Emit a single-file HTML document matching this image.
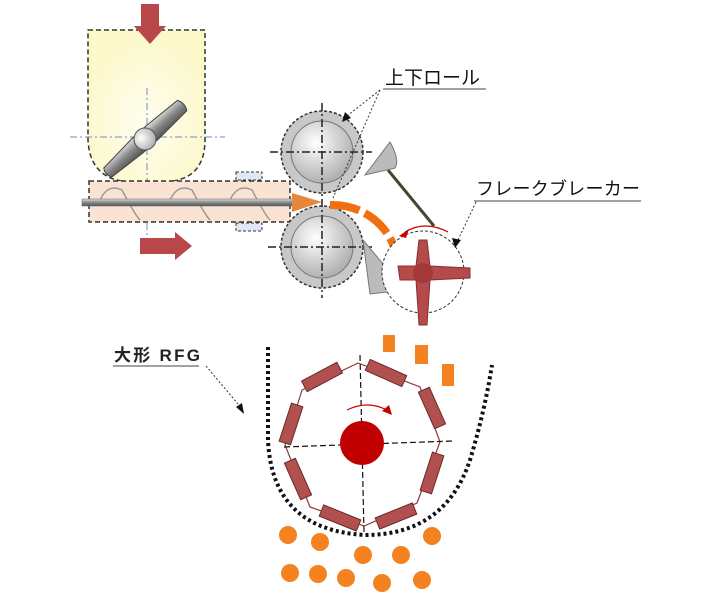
<!DOCTYPE html>
<html><head><meta charset="utf-8"><style>
html,body{margin:0;padding:0;background:#fff;}
svg{display:block;}
text{font-family:"Liberation Sans","Noto Sans CJK JP",sans-serif;}
</style></head><body>
<svg width="715" height="613" viewBox="0 0 715 613" xmlns="http://www.w3.org/2000/svg">
<defs>
<radialGradient id="rg" cx="0.4" cy="0.35" r="0.7"><stop offset="0" stop-color="#fff"/><stop offset="1" stop-color="#aaa"/></radialGradient>
<linearGradient id="bl" x1="0" y1="0" x2="0" y2="1"><stop offset="0" stop-color="#ddd"/><stop offset="0.5" stop-color="#888"/><stop offset="1" stop-color="#555"/></linearGradient>
<radialGradient id="yg" cx="0.5" cy="0.6" r="0.6"><stop offset="0" stop-color="#fffdf0"/><stop offset="1" stop-color="#fcf8c8"/></radialGradient>
</defs>
<!-- hopper -->
<path d="M88,30 H205 V140 Q205,180 165,182 H130 Q90,180 88,140 Z" fill="url(#yg)" stroke="#333" stroke-width="1.5" stroke-dasharray="5,3"/>
<path d="M141,4 H159 V26 H166 L150,44 L134,26 H141 Z" fill="#b9474a"/>
<line x1="70" y1="137" x2="225" y2="137" stroke="#6a8fc0" stroke-width="1" stroke-dasharray="7,3,2,3"/>
<line x1="147" y1="88" x2="147" y2="235" stroke="#6a8fc0" stroke-width="1" stroke-dasharray="7,3,2,3"/>
<g transform="translate(145,139) rotate(-42)">
<path d="M-50,-6 L-10,-9 L10,-9 L50,-7 Q54,0 50,7 L10,9 L-10,9 L-50,6 Q-54,0 -50,-6Z" fill="url(#bl)" stroke="#444"/>
<circle r="11" fill="url(#rg)" stroke="#555"/>
</g>
<rect x="89" y="181" width="201" height="41" fill="#fbe3d3" stroke="#333" stroke-width="1.5" stroke-dasharray="5,3"/>
<rect x="236" y="172" width="26" height="8" fill="#dfe8f4" stroke="#333" stroke-dasharray="3,2"/>
<rect x="236" y="223" width="26" height="8" fill="#dfe8f4" stroke="#333" stroke-dasharray="3,2"/>
<g fill="none" stroke="#999" stroke-width="1.5">
<path d="M100,200 Q108,183 122,190 Q135,215 140,220"/><path d="M170,200 Q178,183 192,190 Q205,215 210,220"/><path d="M230,200 Q238,183 252,190 Q265,215 270,220"/>
</g>
<rect x="82" y="199" width="212" height="7" fill="url(#bl)" stroke="#666" stroke-width="0.5"/>
<path d="M292,193 L322,202 L292,212 Z" fill="#e8873a"/>
<path d="M140,238 H175 V232 L192,246 L175,260 V254 H140 Z" fill="#b9474a"/>
<g>
<circle cx="322" cy="152" r="41" fill="#c8c8c8" stroke="#333" stroke-dasharray="3,2" stroke-width="1.5"/>
<circle cx="322" cy="152" r="31" fill="url(#rg)" stroke="#777"/>
<circle cx="322" cy="247" r="41" fill="#c8c8c8" stroke="#333" stroke-dasharray="3,2" stroke-width="1.5"/>
<circle cx="322" cy="247" r="31" fill="url(#rg)" stroke="#777"/>
<g stroke="#222" stroke-width="1.5" stroke-dasharray="8,3,2,3">
<line x1="322" y1="103" x2="322" y2="298"/><line x1="270" y1="152" x2="372" y2="152"/><line x1="268" y1="247" x2="372" y2="247"/>
</g>
</g>
<path d="M330,205 A65,62 0 0 1 395,250" fill="none" stroke="#f07010" stroke-width="8" stroke-dasharray="30,6"/>
<line x1="388" y1="170" x2="434" y2="226" stroke="#4a4530" stroke-width="3"/>
<path d="M365,175 L390,142 Q400,160 395,168 Z" fill="#bbb" stroke="#777"/>
<path d="M363,240 L405,290 L370,294 Z" fill="#bbb" stroke="#777"/>
<circle cx="423" cy="272" r="41" fill="#fff" stroke="#333" stroke-dasharray="3,2"/>
<path d="M419,240 L427,240 L430,266 L470,268 L470,278 L430,280 L427,325 L419,325 L416,280 L400,280 L398,266 L416,266 Z" fill="#b44a4a" stroke="#8a3030"/>
<circle cx="423" cy="273" r="10" fill="#a43838"/>
<path d="M448,232 Q425,220 405,232" fill="none" stroke="#c00" stroke-width="1.2"/>
<path d="M399,236 L409,229 L406,238Z" fill="#c00"/>
<text x="385" y="84" font-size="19" fill="#111">上下ロール</text>
<line x1="383" y1="89" x2="486" y2="89" stroke="#444"/>
<line x1="380" y1="90" x2="347" y2="116" stroke="#333" stroke-dasharray="2,2"/>
<path d="M342,122 L345,112 L351,118Z" fill="#111"/>
<line x1="380" y1="90" x2="333" y2="198" stroke="#333" stroke-dasharray="2,2"/>
<text x="476" y="195" font-size="18" fill="#111" textLength="164">フレークブレーカー</text>
<line x1="474" y1="201" x2="641" y2="201" stroke="#444"/>
<line x1="476" y1="202" x2="458" y2="240" stroke="#333" stroke-dasharray="2,2"/>
<path d="M455,248 L452,238 L461,240Z" fill="#111"/>
<text x="114" y="361" font-size="17" font-weight="bold" fill="#222" textLength="86">大形 RFG</text>
<line x1="113" y1="366" x2="199" y2="366" stroke="#444"/>
<line x1="206" y1="366" x2="238" y2="404" stroke="#333" stroke-dasharray="2,2"/>
<path d="M244,414 L236,407 L242,403Z" fill="#111"/>
<path d="M268,347 V440 Q272,530 365,535 Q445,535 470,460 Q485,410 492,365" fill="none" stroke="#111" stroke-width="4" stroke-dasharray="3,3"/>
<rect x="383" y="335" width="12" height="17" fill="#f58220"/>
<rect x="415" y="345" width="13" height="19" fill="#f58220"/>
<rect x="442" y="364" width="12" height="22" fill="#f58220"/>
<g transform="translate(362,445)">
<polygon points="-4,-82 58,-58 78,-3 55,58 2,81 -52,62 -77,0 -60,-55" fill="none" stroke="#8a3a3a" stroke-width="1.2"/>
<g fill="#b25050" stroke="#6a2a2a">
<rect x="-20" y="-6" width="40" height="12" transform="translate(24,-72) rotate(24)"/>
<rect x="-20" y="-6" width="40" height="12" transform="translate(70,-37) rotate(66)"/>
<rect x="-20" y="-6" width="40" height="12" transform="translate(70,28) rotate(108)"/>
<rect x="-20" y="-6" width="40" height="12" transform="translate(34,71) rotate(158)"/>
<rect x="-20" y="-6" width="40" height="12" transform="translate(-22,73) rotate(22)"/>
<rect x="-20" y="-6" width="40" height="12" transform="translate(-64,34) rotate(66)"/>
<rect x="-20" y="-6" width="40" height="12" transform="translate(-71,-21) rotate(-72)"/>
<rect x="-20" y="-6" width="40" height="12" transform="translate(-40,-68) rotate(-28)"/>
</g>
<g stroke="#111" stroke-width="1.2" stroke-dasharray="6,3">
<line x1="-2" y1="-90" x2="2" y2="88"/><line x1="-78" y1="2" x2="90" y2="-4"/>
</g>
<circle cx="0" cy="-2" r="22" fill="#c00000"/>
<path d="M-15,-35 Q5,-45 25,-35" fill="none" stroke="#c00" stroke-width="1.2"/>
<path d="M30,-30 L20,-34 L27,-40Z" fill="#c00"/>
</g>
<g fill="#f58220">
<circle cx="288" cy="535" r="9"/><circle cx="320" cy="542" r="9"/><circle cx="432" cy="536" r="9"/><circle cx="363" cy="555" r="9"/><circle cx="401" cy="555" r="9"/>
<circle cx="290" cy="573" r="9"/><circle cx="318" cy="574" r="9"/><circle cx="346" cy="578" r="9"/><circle cx="382" cy="583" r="9"/><circle cx="422" cy="580" r="9"/>
</g>
</svg>
</body></html>
